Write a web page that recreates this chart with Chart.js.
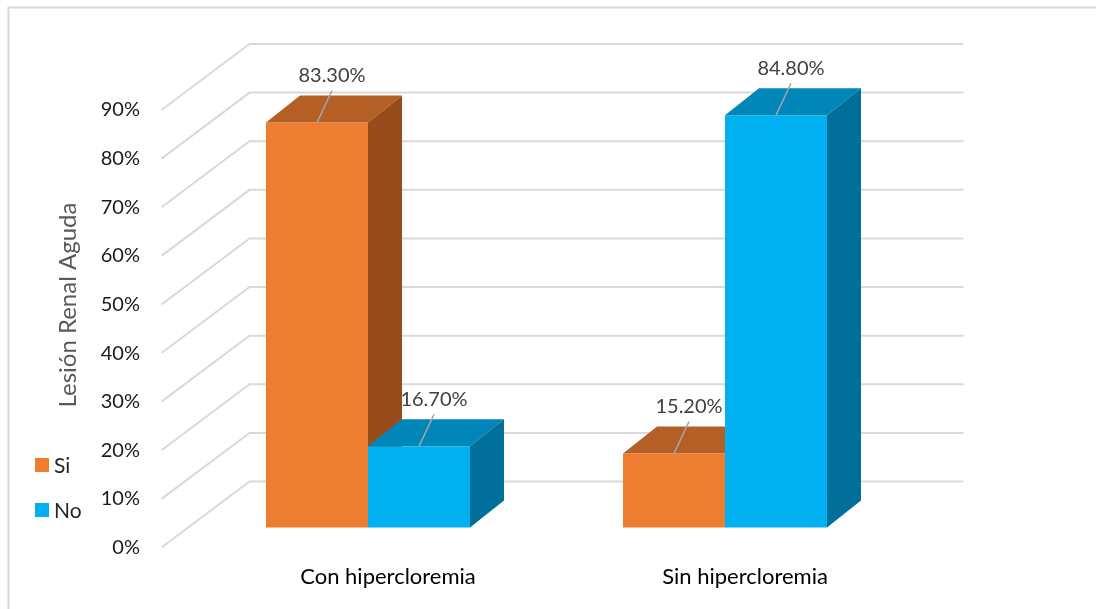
<!DOCTYPE html>
<html><head><meta charset="utf-8">
<script src="https://cdn.jsdelivr.net/npm/chart.js@4"></script>
<style>html,body{margin:0;padding:0;background:#fff}canvas{display:block}</style>
</head><body>
<canvas id="c" width="1096" height="609"></canvas>
<script>
// ---- data ----
const categories = ['Con hipercloremia', 'Sin hipercloremia'];
const seriesNames = ['Si', 'No'];
const siValues = [83.3, 15.2];
const noValues = [16.7, 84.8];
const yTickLabels = ['0%', '10%', '20%', '30%', '40%', '50%', '60%', '70%', '80%', '90%'];
const yTitle = 'Lesión Renal Aguda';

// ---- styles ----
const FONT = 'Lato, "Liberation Sans", sans-serif';
const palette = [
  { front: '#ED7D31', top: '#B45F26', side: '#984C1C' },
  { front: '#00B0F0', top: '#0086B8', side: '#006F99' }
];
const DEPTH_X = 34, DEPTH_Y = 27;     // bar depth projection
const FRONT_SHIFT = 20;               // bar front plane above floor front edge
const WALL_FRONT = -28, WALL_BACK = 60, WALL_RISE = 66;

const threeD = {
  id: 'threeD',
  beforeDraw(chart) {
    const c = chart.ctx;
    c.save();
    c.strokeStyle = '#D9D9D9';
    c.lineWidth = 2;
    c.beginPath();
    c.moveTo(8.5, 609); c.lineTo(8.5, 7.5); c.lineTo(1096, 7.5);
    c.stroke();
    c.restore();
  },
  beforeDatasetsDraw(chart) {
    const c = chart.ctx;
    const ys = chart.scales.y;
    const area = chart.chartArea;
    c.save();
    // walls / gridlines
    c.strokeStyle = '#D9D9D9';
    c.lineWidth = 2;
    ys.ticks.forEach(t => {
      const yf = ys.getPixelForValue(t.value);
      const yb = yf - WALL_RISE;
      c.beginPath();
      c.moveTo(area.left + WALL_FRONT, yf);
      c.lineTo(area.left + WALL_BACK, yb);
      c.lineTo(area.right + WALL_BACK, yb);
      c.stroke();
    });
    // bars
    const y0 = ys.getPixelForValue(0) - FRONT_SHIFT;
    const labels = [];
    categories.forEach((cat, j) => {
      chart.data.datasets.forEach((ds, i) => {
        const el = chart.getDatasetMeta(i).data[j];
        const v = ds.data[j];
        const x0 = el.x - el.width / 2, x1 = el.x + el.width / 2;
        const yt = ys.getPixelForValue(v) - FRONT_SHIFT;
        const col = palette[i];
        c.fillStyle = col.front;
        c.fillRect(x0, yt, x1 - x0, y0 - yt);
        c.fillStyle = col.top;
        c.beginPath();
        c.moveTo(x0, yt); c.lineTo(x0 + DEPTH_X, yt - DEPTH_Y);
        c.lineTo(x1 + DEPTH_X, yt - DEPTH_Y); c.lineTo(x1, yt); c.closePath(); c.fill();
        c.fillStyle = col.side;
        c.beginPath();
        c.moveTo(x1, yt); c.lineTo(x1 + DEPTH_X, yt - DEPTH_Y);
        c.lineTo(x1 + DEPTH_X, y0 - DEPTH_Y); c.lineTo(x1, y0); c.closePath(); c.fill();
        labels.push({ x: el.x, y: yt, v });
      });
    });
    // data labels with leader lines
    c.font = '20px ' + FONT;
    c.textAlign = 'center';
    c.textBaseline = 'middle';
    labels.forEach(l => {
      c.strokeStyle = '#A6A6A6';
      c.lineWidth = 1.5;
      c.beginPath();
      c.moveTo(l.x, l.y);
      c.lineTo(l.x + 15, l.y - 32);
      c.stroke();
      c.fillStyle = '#404040';
      c.fillText(l.v.toFixed(2) + '%', l.x + 15, l.y - 47);
    });
    // legend
    c.textAlign = 'left';
    chart.data.datasets.forEach((ds, i) => {
      const cy = 465 + i * 45;
      c.fillStyle = palette[i].front;
      c.fillRect(35, cy - 7, 14, 14);
      c.fillStyle = '#262626';
      c.font = '21px ' + FONT;
      c.fillText(ds.label, 54, cy + 1);
    });
    // y title
    c.translate(68, 305);
    c.rotate(-Math.PI / 2);
    c.textAlign = 'center';
    c.fillStyle = '#595959';
    c.font = '24px ' + FONT;
    c.fillText(yTitle, 0, 0);
    c.restore();
    return false;
  }
};

new Chart(document.getElementById('c'), {
  type: 'bar',
  data: {
    labels: categories,
    datasets: [
      { label: seriesNames[0], data: siValues, backgroundColor: palette[0].front },
      { label: seriesNames[1], data: noValues, backgroundColor: palette[1].front }
    ]
  },
  options: {
    responsive: false,
    animation: false,
    devicePixelRatio: 1,
    datasets: { bar: { barPercentage: 1, categoryPercentage: 0.5714 } },
    layout: { padding: { left: 0, top: 110, right: 192.5, bottom: 0 } },
    plugins: { legend: { display: false }, tooltip: { enabled: false } },
    scales: {
      x: {
        grid: { display: false, drawTicks: false },
        border: { display: false },
        ticks: { font: { family: FONT, size: 22 }, color: '#000000', padding: 16, labelOffset: 20 },
        afterFit: s => { s.height = 60; }
      },
      y: {
        min: 0, max: 90,
        grid: { display: false, drawTicks: false },
        border: { display: false },
        ticks: {
          stepSize: 10,
          padding: 49.5,
          font: { family: FONT, size: 20 },
          color: '#1A1A1A',
          callback: (v, i) => yTickLabels[i]
        },
        afterFit: s => { s.width = 189.5; }
      }
    }
  },
  plugins: [threeD]
});
</script>
</body></html>
